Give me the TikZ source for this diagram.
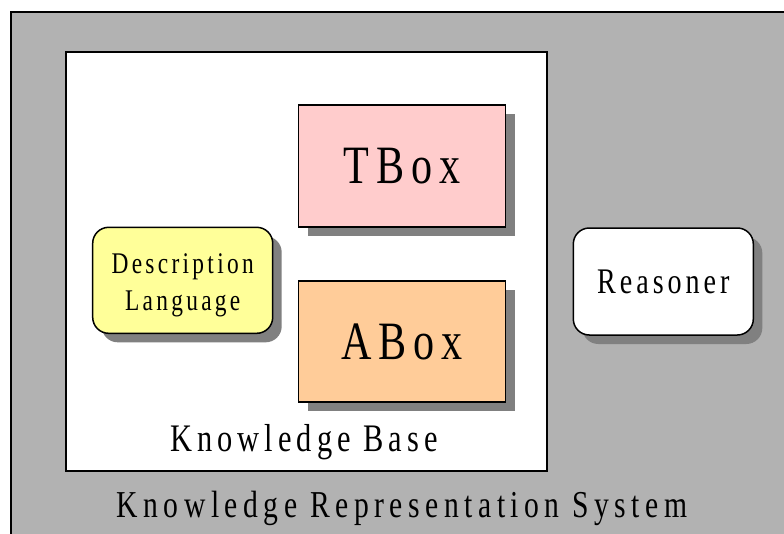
\documentclass[tikz,border=0pt]{standalone}
\usepackage{fontspec}
\setmainfont{Liberation Serif}
\newfontfamily\lblfont[FakeStretch=0.78,LetterSpace=13]{Liberation Serif}
\newfontfamily\lblfontb[FakeStretch=0.78,LetterSpace=11]{Liberation Serif}
\newfontfamily\lblfontc[FakeStretch=0.78,LetterSpace=14.5]{Liberation Serif}
\usetikzlibrary{shadows}
\definecolor{bggray}{HTML}{B2B2B2}
\definecolor{shadowgray}{HTML}{808080}
\definecolor{tboxpink}{HTML}{FFCCCC}
\definecolor{aboxorange}{HTML}{FFCC99}
\definecolor{dlyellow}{HTML}{FFFF99}
\tikzset{
  boxshadow/.style={drop shadow={shadow xshift=9pt,shadow yshift=-9pt,fill=shadowgray,opacity=1}},
  sqbox/.style={draw, line width=1.5pt, inner sep=0pt, boxshadow},
  rndbox/.style={draw, line width=1.5pt, inner sep=0pt, rounded corners=16pt, boxshadow, align=center},
  lbl/.style={inner sep=0pt, anchor=base},
}
\begin{document}
\begin{tikzpicture}[x=1pt,y=-1pt]
\useasboundingbox (0,0) rectangle (784,533);
\clip (0,0) rectangle (784,533);
\node[draw, line width=2pt, fill=bggray, anchor=north west, minimum width=820, minimum height=560] (krs) at (10,11) {};
\node[draw, line width=1.5pt, fill=white, anchor=north west, minimum width=481, minimum height=419] (kb) at (65,51) {};
\node[sqbox, fill=tboxpink, minimum width=207, minimum height=122, font=\fontsize{54}{54}\lblfont] (tbox) at (402,166) {TBox};
\node[sqbox, fill=aboxorange, minimum width=207, minimum height=121, font=\fontsize{54}{54}\lblfont] (abox) at (402,341.5) {ABox};
\node[rndbox, fill=dlyellow, minimum width=180, minimum height=106] (dl) at (182.7,280.3) {};
\node[inner sep=0pt, align=center, font=\fontsize{30}{36.7}\lblfontb] (dltext) at ([yshift=-5pt]dl.center) {Description\\Language};
\node[rndbox, fill=white, minimum width=180, minimum height=107, font=\fontsize{36}{36}\lblfontb] (reas) at (663.3,281.5) {Reasoner};
\node[lbl, font=\fontsize{39}{39}\lblfont] (kblabel) at (304,451.7) {Knowledge Base};
\node[lbl, font=\fontsize{38}{38}\lblfontc] (krslabel) at (402,517.7) {Knowledge Representation System};
\end{tikzpicture}
\end{document}
